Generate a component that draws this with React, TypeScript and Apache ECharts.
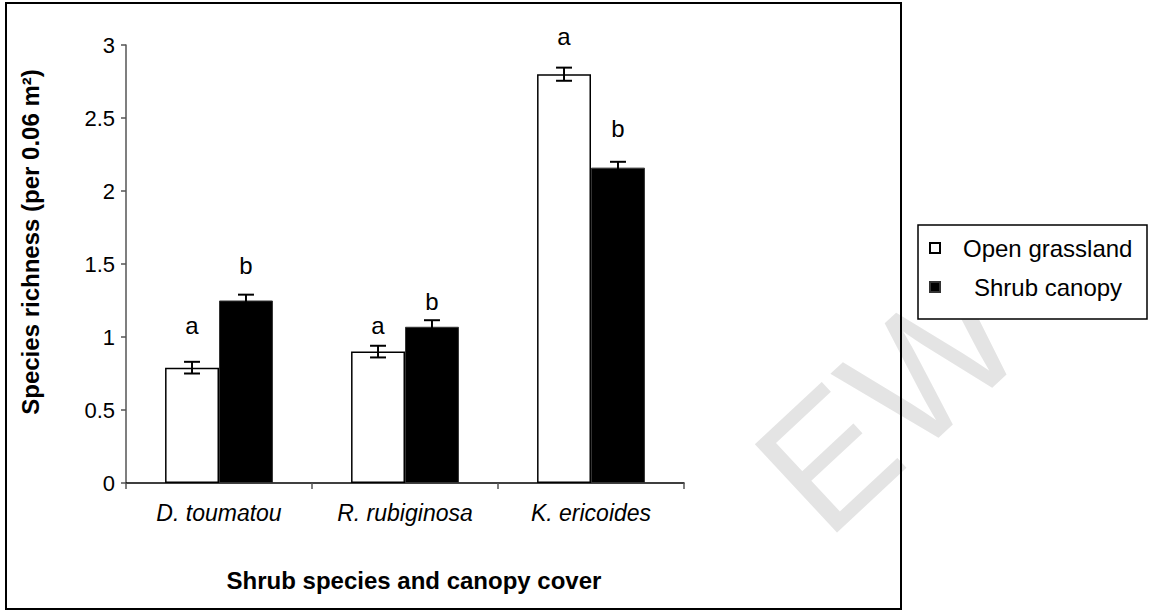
import React, { useEffect, useRef } from "react";
import * as echarts from "echarts";

const categories = ["D. toumatou", "R. rubiginosa", "K. ericoides"];
const seriesNames = ["Open grassland", "Shrub canopy"];
const openValues = [0.79, 0.9, 2.8];
const shrubValues = [1.25, 1.07, 2.16];
const openErrors = [0.04, 0.04, 0.045];
const shrubErrors = [0.04, 0.045, 0.04];
const openLetters = ["a", "a", "a"];
const shrubLetters = ["b", "b", "b"];
const openLetterPos = [1.08, 1.08, 3.06];
const shrubLetterPos = [1.49, 1.24, 2.43];
const yMin = 0;
const yMax = 3;
const yInterval = 0.5;
const yAxisTitle = "Species richness (per 0.06 m²)";
const xAxisTitle = "Shrub species and canopy cover";
const watermarkText = "EW";

const FONT = "'Liberation Sans', Arial, sans-serif";

function errorSeries(values: number[], errors: number[], letters: string[], letterPos: number[], side: number) {
  return {
    type: "custom",
    coordinateSystem: "cartesian2d",
    clip: false,
    silent: true,
    z: 5,
    encode: { x: 0, y: 1 },
    data: values.map((v, i) => [i, v, errors[i], letterPos[i]]),
    renderItem: (params: any, api: any) => {
      const ci = api.value(0);
      const v = api.value(1);
      const e = api.value(2);
      const lp = api.value(3);
      const band = api.size([1, 0])[0];
      const top = api.coord([ci, v + e]);
      const bot = api.coord([ci, v - e]);
      const x = top[0] + side * band * 0.145;
      const lpt = api.coord([ci, lp]);
      const cap = 8;
      const st = { stroke: "#000", lineWidth: 2 };
      return {
        type: "group",
        children: [
          { type: "line", shape: { x1: x, y1: top[1], x2: x, y2: bot[1] }, style: st },
          { type: "line", shape: { x1: x - cap, y1: top[1], x2: x + cap, y2: top[1] }, style: st },
          { type: "line", shape: { x1: x - cap, y1: bot[1], x2: x + cap, y2: bot[1] }, style: st },
          {
            type: "text",
            x: x,
            y: lpt[1],
            style: {
              text: letters[params.dataIndex],
              textAlign: "center",
              textVerticalAlign: "middle",
              fontSize: 24,
              fontFamily: FONT,
              fill: "#000",
            },
          },
        ],
      };
    },
  };
}

export default function App() {
  const ref = useRef<HTMLDivElement>(null);
  useEffect(() => {
    if (!ref.current) return;
    const chart = echarts.init(ref.current, null, { renderer: "svg" });
    const option: any = {
      animation: false,
      backgroundColor: "#fff",
      textStyle: { fontFamily: FONT },
      grid: { left: 126, right: 465, top: 45, bottom: 128, containLabel: false },
      legend: {
        orient: "vertical",
        left: 929,
        top: 236,
        padding: 0,
        itemWidth: 10,
        itemHeight: 10,
        itemGap: 15,
        icon: "rect",
        data: seriesNames,
        formatter: (name: string) => (name === seriesNames[0] ? `{a|${name}}` : `{b|${name}}`),
        textStyle: {
          fontSize: 24,
          color: "#000",
          fontFamily: FONT,
          rich: {
            a: { fontSize: 24, fontFamily: FONT, color: "#000", padding: [0, 0, 0, 18] },
            b: { fontSize: 24, fontFamily: FONT, color: "#000", padding: [0, 0, 0, 29] },
          },
        },
      },
      xAxis: {
        type: "category",
        data: categories,
        axisLine: { lineStyle: { color: "#000", width: 1.5 } },
        axisTick: { show: true, alignWithLabel: false, length: 6, lineStyle: { color: "#555", width: 1.5 } },
        axisLabel: {
          fontSize: 23,
          fontStyle: "italic",
          color: "#000",
          margin: 18,
          fontFamily: FONT,
        },
      },
      yAxis: {
        type: "value",
        min: yMin,
        max: yMax,
        interval: yInterval,
        splitLine: { show: false },
        axisLine: { show: true, lineStyle: { color: "#555", width: 1.5 } },
        axisTick: { show: true, length: 5, lineStyle: { color: "#555", width: 1.5 } },
        axisLabel: { fontSize: 22, color: "#000", margin: 11, fontFamily: FONT },
      },
      series: [
        {
          name: seriesNames[0],
          type: "bar",
          data: openValues,
          barGap: "0%",
          barCategoryGap: "42%",
          itemStyle: { color: "#fff", borderColor: "#000", borderWidth: 1.5 },
        },
        {
          name: seriesNames[1],
          type: "bar",
          data: shrubValues,
          barGap: "0%",
          barCategoryGap: "42%",
          itemStyle: { color: "#000", borderColor: "#333", borderWidth: 1 },
        },
        errorSeries(openValues, openErrors, openLetters, openLetterPos, -1),
        errorSeries(shrubValues, shrubErrors, shrubLetters, shrubLetterPos, 1),
      ],
      graphic: [
        {
          type: "text",
          x: 845,
          y: 562,
          rotation: 0.75,
          z: -10,
          silent: true,
          style: {
            text: watermarkText,
            fontSize: 175,
            fontFamily: FONT,
            fill: "#e4e4e4",
            textVerticalAlign: "bottom",
          },
        },
        {
          type: "rect",
          shape: { x: 6, y: 3, width: 895, height: 606 },
          style: { fill: "none", stroke: "#000", lineWidth: 2 },
          z: 1,
        },
        {
          type: "rect",
          shape: { x: 918, y: 225, width: 229, height: 94 },
          style: { fill: "#fff", stroke: "#000", lineWidth: 1.5 },
          z: 1,
        },
        {
          type: "text",
          x: 30,
          y: 242,
          rotation: Math.PI / 2,
          style: {
            text: yAxisTitle,
            fontSize: 24,
            fontWeight: "bold",
            fontFamily: FONT,
            fill: "#000",
            textAlign: "center",
            textVerticalAlign: "middle",
          },
          z: 2,
        },
        {
          type: "text",
          x: 414,
          y: 580,
          style: {
            text: xAxisTitle,
            fontSize: 24,
            fontWeight: "bold",
            fontFamily: FONT,
            fill: "#000",
            textAlign: "center",
            textVerticalAlign: "middle",
          },
          z: 2,
        },
      ],
    };
    chart.setOption(option);
    return () => chart.dispose();
  }, []);
  return (
    <div
      ref={ref}
      style={{ position: "fixed", left: 0, top: 0, width: 1149, height: 611, background: "#fff" }}
    />
  );
}
